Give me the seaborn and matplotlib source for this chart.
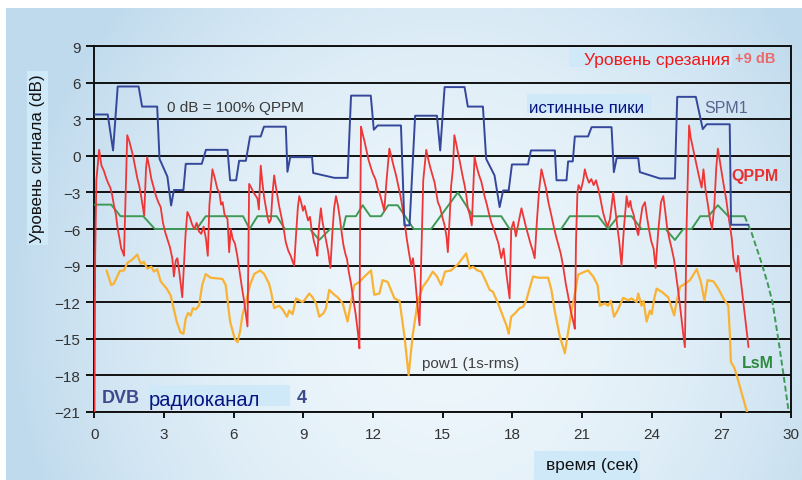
import numpy as np
import pandas as pd
import matplotlib
matplotlib.use("Agg")
import matplotlib.pyplot as plt
import seaborn as sns
from matplotlib.patches import Rectangle

# ---------------- data ----------------
spm1_t = [0.00, 0.57, 0.80, 1.00, 1.90, 2.05, 2.70, 2.80, 3.14, 3.30, 3.42, 3.83, 3.93, 4.62, 4.80,
          5.73, 5.84, 6.10, 6.23, 6.52, 6.70, 7.16, 7.30, 8.24, 8.31, 8.43, 9.37, 9.42, 10.33, 10.90,
          11.05, 11.90, 12.03, 12.20, 13.20, 13.35, 13.57, 13.81, 14.75, 14.89, 15.08, 15.94, 16.08,
          16.73, 16.87, 17.23, 17.45, 17.60, 17.84, 17.98, 18.67, 18.80, 19.83, 19.90, 20.33, 20.40,
          20.60, 20.69, 21.26, 21.41, 22.27, 22.37, 22.49, 23.42, 23.49, 24.35, 25.00, 25.10, 25.90,
          26.20, 26.37, 27.36, 27.42, 28.17]
spm1_v = [3.4, 3.4, 0.45, 5.7, 5.7, 4.05, 4.05, -0.24, -1.7, -4.07, -2.8, -2.8, -0.65, -0.65, 0.5,
          0.5, -2.0, -2.0, -0.4, -0.4, 1.6, 1.6, 2.4, 2.4, -1.3, -0.1, -0.1, -1.4, -1.8, -1.8,
          4.95, 4.95, 2.15, 2.5, 2.5, -5.7, -5.7, 3.3, 3.3, 0.45, 5.65, 5.65, 4.05,
          4.05, -0.24, -1.6, -4.2, -2.84, -2.84, -0.7, -0.7, 0.45, 0.45, -2.0, -2.0, -0.45,
          -0.45, 1.6, 1.6, 2.36, 2.36, -1.33, -0.18, -0.18, -1.33, -1.85, -1.85, 4.85, 4.85,
          2.2, 2.6, 2.6, -5.65, -5.65]

qppm_t = [0.00, 0.03, 0.08, 0.20, 0.30, 0.40, 0.50, 0.58, 0.68, 0.76, 0.85, 0.92, 1.00, 1.08, 1.15,
          1.22, 1.27, 1.33, 1.41, 1.50, 1.58, 1.66, 1.75, 1.84, 1.92, 2.00, 2.08, 2.14, 2.22, 2.27,
          2.35, 2.45, 2.55, 2.65, 2.75, 2.85, 2.95, 3.05, 3.15, 3.25, 3.35, 3.42, 3.50, 3.57, 3.65,
          3.72, 3.78, 3.85, 3.92, 4.00, 4.10, 4.20, 4.30, 4.40, 4.50, 4.60, 4.70, 4.80, 4.88, 4.95,
          5.08, 5.18, 5.29, 5.38, 5.45, 5.52, 5.60, 5.73, 5.80, 5.87, 5.95, 6.05, 6.15, 6.25, 6.35,
          6.45, 6.52, 6.59, 6.63, 6.66, 6.75, 6.85, 6.95, 7.02, 7.08, 7.16, 7.22, 7.30, 7.38, 7.45,
          7.52, 7.60, 7.67, 7.74, 7.81, 7.88, 7.95, 8.05, 8.15, 8.24, 8.35, 8.45, 8.52, 8.60, 8.68,
          8.76, 8.82, 8.90, 8.98, 9.05, 9.12, 9.20, 9.28, 9.35, 9.45, 9.54, 9.60, 9.66, 9.75, 9.82,
          9.90, 9.98, 10.06, 10.16, 10.24, 10.32, 10.40, 10.48, 10.56, 10.64, 10.72, 10.80, 10.88,
          10.95, 11.05, 11.15, 11.25, 11.35, 11.41, 11.44, 11.48, 11.55, 11.63, 11.72, 11.80, 11.91,
          12.00, 12.10, 12.20, 12.30, 12.40, 12.48, 12.58, 12.70, 12.78, 12.88, 12.99, 13.08, 13.18,
          13.27, 13.36, 13.45, 13.55, 13.64, 13.72, 13.80, 13.90, 14.00, 14.08, 14.16, 14.29, 14.38,
          14.47, 14.56, 14.65, 14.72, 14.79, 14.88, 14.98, 15.08, 15.16, 15.22, 15.30, 15.36, 15.44,
          15.50, 15.58, 15.65, 15.75, 15.85, 15.94, 16.02, 16.08, 16.16, 16.25, 16.31, 16.37, 16.45,
          16.55, 16.66, 16.80, 16.90, 17.00, 17.10, 17.20, 17.30, 17.40, 17.52, 17.62, 17.75, 17.88,
          17.95, 18.05, 18.15, 18.25, 18.39, 18.48, 18.58, 18.68, 18.78, 18.88, 18.96, 19.05, 19.15,
          19.25, 19.34, 19.44, 19.55, 19.68, 19.78, 19.88, 19.98, 20.08, 20.18, 20.30, 20.40, 20.52,
          20.62, 20.69, 20.74, 20.80, 20.85, 20.95, 21.05, 21.12, 21.20, 21.30, 21.40, 21.50, 21.60,
          21.70, 21.80, 21.90, 22.00, 22.10, 22.20, 22.28, 22.34, 22.42, 22.50, 22.60, 22.70, 22.80,
          22.92, 23.00, 23.08, 23.13, 23.22, 23.32, 23.42, 23.50, 23.60, 23.71, 23.78, 23.88, 23.98,
          24.08, 24.17, 24.28, 24.40, 24.50, 24.58, 24.66, 24.76, 24.86, 24.96, 25.05, 25.15, 25.25,
          25.35, 25.43, 25.50, 25.61, 25.68, 25.78, 25.87, 25.95, 26.05, 26.15, 26.23, 26.32, 26.42,
          26.51, 26.60, 26.70, 26.78, 26.85, 26.95, 27.05, 27.13, 27.22, 27.28, 27.36, 27.45, 27.52,
          27.60, 27.66, 27.72, 27.80, 27.88, 27.98, 28.08, 28.17]
qppm_v = [-21.0, -8.0, -2.0, 0.5, -0.8, -1.2, -1.8, -2.2, -2.6, -3.2, -4.2, -4.8, -6.0, -6.8, -7.6,
          -7.9, -8.2, -4.0, 1.7, 1.2, 0.6, 0.0, -0.9, -1.8, -2.4, -3.2, -4.2, -4.9, -1.0, -0.1,
          -0.8, -1.9, -2.6, -3.3, -3.8, -4.2, -5.5, -6.3, -6.9, -7.5, -8.4, -9.9, -8.6, -8.4, -9.5,
          -10.6, -11.6, -9.0, -6.5, -4.6, -5.0, -5.6, -6.0, -5.5, -6.2, -6.4, -5.8, -6.8, -8.2, -4.0,
          -1.1, -1.8, -2.7, -3.0, -4.0, -3.8, -4.8, -5.2, -7.9, -6.0, -6.8, -7.2, -8.2, -9.5, -10.8,
          -12.0, -13.0, -14.0, -8.0, -2.3, -2.6, -3.0, -3.3, -3.5, -4.4, -0.8, -2.0, -3.3, -4.2, -5.0,
          -5.5, -5.2, -3.0, -1.6, -2.5, -3.3, -4.1, -5.0, -6.0, -7.1, -7.8, -8.2, -8.6, -9.0, -6.5,
          -4.2, -3.3, -3.8, -4.5, -4.1, -4.7, -5.3, -5.0, -6.0, -7.0, -7.6, -8.2, -6.0, -4.3, -5.4,
          -6.2, -7.0, -7.8, -9.2, -6.5, -4.3, -3.3, -4.0, -5.0, -6.2, -7.3, -8.0, -8.5,
          -9.5, -10.5, -11.8, -13.0, -14.6, -15.8, -6.0, 2.4, 1.8, 1.2, 0.4, -0.3, -1.0,
          -1.5, -1.9, -2.7, -3.2, -3.9, -4.5, -2.0, 0.6, 0.0, -0.8, -1.6, -2.4, -3.3,
          -4.3, -5.5, -6.8, -8.0, -9.0, -8.4, -9.8, -12.0, -13.9, -8.0, -2.0, 0.5, -0.3,
          -1.0, -1.6, -2.2, -3.0, -3.8, -4.2, -5.0, -5.7, -6.6, -7.9, -5.0, -2.5, -1.0,
          1.7, 1.0, 0.3, -0.6, -1.6, -2.4, -3.3, -4.3, -4.8, -5.7, -3.0, -0.1, -0.8,
          -1.5, -2.1, -3.3, -4.0, -4.8, -5.5, -6.0, -6.6, -7.2, -8.4, -7.6, -9.8, -11.7,
          -6.0, -5.4, -6.6, -5.6, -4.3, -5.0, -5.8, -6.5, -7.2, -7.8, -8.4, -5.5, -2.8,
          -1.1, -1.8, -2.6, -3.8, -4.9, -5.8, -6.6, -7.3, -8.0, -9.0, -10.5, -11.5, -12.8,
          -13.6, -14.2, -7.0, -3.0, -2.4, -2.8, -2.0, -1.1, -1.7, -2.2, -1.9, -2.4, -2.0,
          -2.7, -3.6, -4.6, -5.3, -5.8, -5.2, -4.0, -3.0, -4.2, -5.5, -7.0, -9.0, -6.0,
          -3.3, -4.2, -3.7, -4.3, -4.8, -5.8, -6.5, -5.5, -4.2, -3.8, -4.8, -6.0, -7.0,
          -7.6, -9.2, -6.2, -3.8, -3.3, -4.5, -5.8, -6.8, -7.6, -8.5, -9.8, -11.2, -12.8,
          -14.5, -15.7, -6.0, 2.5, 1.5, 0.6, -0.2, -0.9, -1.8, -2.6, -1.1, -2.8, -4.0,
          -5.2, -6.0, -4.0, -1.0, 0.6, -0.6, -1.8, -2.7, -3.7, -4.6, -5.6, -6.8, -8.4,
          -9.0, -9.5, -8.2, -9.6, -10.9, -12.5, -14.2, -15.7]

lsm_t = [0.00, 0.72, 1.12, 2.10, 2.60, 4.40, 4.79, 6.40, 6.68, 7.02, 7.85, 8.20, 9.28, 9.68, 10.15,
         10.70, 10.83, 11.26, 11.55, 11.88, 12.34, 12.65, 13.06, 13.75, 14.50, 15.65, 16.30, 17.52,
         17.88, 20.10, 20.47, 21.70, 22.12, 22.56, 23.13, 23.56, 24.60, 25.00, 25.36, 25.72, 26.09,
         26.44, 26.85, 27.30, 28.00]
lsm_v = [-4.0, -4.0, -4.95, -4.95, -6.0, -6.0, -4.95, -4.95, -6.0, -4.95, -4.95, -6.0, -6.0, -6.9, -6.0,
         -6.0, -4.95, -4.95, -4.05, -4.95, -4.95, -4.05, -4.05, -6.0, -6.0, -3.0, -4.95, -4.95,
         -6.0, -6.0, -4.95, -4.95, -6.0, -4.95, -4.95, -6.0, -6.0, -6.9, -6.0, -6.0, -4.95,
         -4.95, -4.05, -4.95, -4.95]
lsm_tail_t = [28.00, 28.30, 28.70, 29.00, 29.20, 29.45, 29.68, 29.90]
lsm_tail_v = [-4.95, -6.3, -8.6, -10.5, -12.0, -15.0, -18.0, -21.0]

pow1_t = [0.52, 0.72, 0.83, 1.09, 1.27, 1.41, 1.63, 1.84, 1.99, 2.13, 2.27, 2.45, 2.56, 2.70, 2.85,
          3.11, 3.28, 3.54, 3.71, 3.83, 3.93, 4.03, 4.14, 4.24, 4.36, 4.50, 4.64, 4.79, 5.00, 5.51,
          5.65, 5.84, 6.04, 6.16, 6.27, 6.37, 6.52, 6.70, 6.88, 7.13, 7.31, 7.52, 7.60, 7.74, 7.95,
          8.10, 8.29, 8.39, 8.53, 8.68, 8.82, 8.96, 9.06, 9.25, 9.39, 9.54, 9.68, 9.87, 9.97, 10.11,
          10.33, 10.47, 10.69, 10.90, 11.02, 11.19, 11.41, 11.63, 11.91, 12.05, 12.27, 12.41, 12.63,
          12.92, 13.14, 13.35, 13.53, 13.70, 13.92, 14.14, 14.35, 14.57, 14.75, 14.93, 15.10, 15.36,
          15.65, 16.01, 16.16, 16.30, 16.49, 16.66, 16.87, 17.02, 17.16, 17.38, 17.74, 17.84, 17.95,
          18.10, 18.31, 18.46, 18.60, 18.70, 18.89, 19.13, 19.54, 19.68, 19.83, 20.04, 20.26, 20.37,
          20.54, 20.72, 20.83, 21.12, 21.26, 21.48, 21.67, 21.77, 21.98, 22.12, 22.24, 22.38, 22.53,
          22.77, 22.99, 23.13, 23.35, 23.42, 23.56, 23.65, 23.78, 23.92, 24.00, 24.11, 24.21, 24.43,
          24.71, 24.97, 25.07, 25.22, 25.43, 25.65, 25.94, 26.12, 26.27, 26.41, 26.66, 26.87, 27.09,
          27.30, 27.37, 27.41, 27.56, 27.66, 28.10]
pow1_v = [-9.4, -10.6, -10.5, -9.45, -9.4, -8.8, -8.5, -8.1, -8.85, -8.7, -9.25, -9.1, -9.5, -9.3, -10.3,
          -10.9, -11.45, -13.6, -14.5, -14.6, -13.35, -12.9, -13.1, -12.5, -12.6, -12.3, -10.6, -9.7, -10.0, -10.1,
          -10.6, -13.6, -15.0, -15.3, -14.4, -13.1, -12.0, -10.6, -9.7, -9.4, -9.7, -10.5, -11.1, -12.5, -12.3,
          -12.6, -13.2, -12.7, -13.0, -11.7, -11.85, -12.0, -11.8, -11.3, -11.6, -12.1, -13.2, -12.9, -12.5, -11.0,
          -11.4, -11.6, -12.1, -13.6, -12.3, -10.6, -10.35, -9.9, -9.4, -11.4, -11.3, -10.2, -10.35,
          -11.7, -11.9, -14.8, -18.0, -14.8, -12.0, -10.75, -10.2, -9.5, -9.9, -10.6, -9.5, -9.4,
          -8.9, -8.0, -9.25, -9.1, -9.4, -9.5, -10.35, -11.0, -11.15, -12.1, -13.9, -14.6, -13.2,
          -12.95, -12.5, -12.4, -11.85, -11.15, -9.9, -10.0, -10.0, -11.0, -12.8, -14.8, -16.2, -14.8,
          -12.8, -11.0, -9.75, -9.5, -9.4, -9.9, -10.6, -12.3, -12.1, -12.3, -11.9, -13.2, -12.7,
          -11.65, -11.85, -11.7, -12.0, -11.3, -12.3, -11.9, -13.6, -12.7, -13.0, -11.7, -10.9, -11.15,
          -11.6, -13.1, -12.0, -10.75, -10.5, -10.2, -9.3, -10.35, -11.85, -10.2, -10.3, -10.9, -11.7,
          -12.3, -14.8, -16.9, -17.4, -18.0, -21.0]

x_ticks = list(range(0, 31, 3))
y_ticks = list(range(-21, 10, 3))

# ---------------- style ----------------
sns.set_style("white")
plt.rcParams['font.family'] = ['Liberation Sans', 'DejaVu Sans']
plt.rcParams['axes.unicode_minus'] = True

W, H = 803, 481
fig = plt.figure(figsize=(W / 100, H / 100), dpi=100)
fig.patch.set_facecolor('white')

# light-blue gradient background
bg = fig.add_axes([6 / W, 0, 797 / W, 472 / H])
bg.set_zorder(0)
nyy, nxx = 120, 240
xx, yy = np.meshgrid(np.linspace(0, 1, nxx), np.linspace(0, 1, nyy))
f = np.clip(((xx - 0.55) / 0.55) ** 2 + ((yy - 0.65) / 1.0) ** 2, 0, 1)
light = np.array([0.93, 0.965, 0.985])
dark = np.array([0.75, 0.855, 0.93])
img = light + (dark - light) * f[..., None]
bg.imshow(img, aspect='auto', extent=[0, 1, 0, 1], origin='upper')
bg.axis('off')

ax = fig.add_axes([94.5 / W, 1 - 412.7 / H, 696.5 / W, 365.4 / H])
ax.set_zorder(1)
ax.patch.set_alpha(0)

BOX = '#cfe9f9'

def draw(t, v, color, lw, z, ls='-'):
    df = pd.DataFrame({'t': t, 'v': v})
    sns.lineplot(data=df, x='t', y='v', ax=ax, color=color, linewidth=lw, sort=False,
                 estimator=None, zorder=z, linestyle=ls)

draw(lsm_t, lsm_v, '#3f9a55', 1.4, 3)
draw(lsm_tail_t, lsm_tail_v, '#3f9a55', 1.4, 3, ls=(0, (3, 1.5)))
draw(pow1_t, pow1_v, '#f9b233', 1.6, 3)
draw(qppm_t, qppm_v, '#ee3636', 1.3, 4)
draw(spm1_t, spm1_v, '#34479a', 1.4, 5)

ax.set_xlim(0, 30)
ax.set_ylim(-21, 9)
ax.set_xticks(x_ticks)
ax.set_yticks(y_ticks)
ax.grid(axis='y', color='#111111', linewidth=1.4)
ax.grid(axis='x', visible=False)
for s in ax.spines.values():
    s.set_visible(True)
    s.set_color('#111111')
    s.set_linewidth(1.4)
ax.tick_params(axis='y', direction='out', length=6, width=1.4, color='#111111', pad=4,
               labelsize=11, labelcolor='#333333', left=True)
ax.tick_params(axis='x', direction='out', length=4, width=1.4, color='#111111', pad=7,
               labelsize=11, labelcolor='#333333', bottom=True)

ax.set_xlabel('время (сек)', fontsize=12.5, color='#111111', va='center')
ax.xaxis.set_label_coords((592.5 - 94.5) / 696.5, (412.7 - 465.7) / 365.4)
ax.set_ylabel('Уровень сигнала (dB)', fontsize=12.2, color='#111111', va='center',
              bbox=dict(boxstyle='square,pad=0.15', fc=BOX, ec='none'))
ax.yaxis.set_label_coords((37.5 - 94.5) / 696.5, (412.7 - 159) / 365.4)

# light boxes behind some labels
fig.add_artist(Rectangle((534.3 / W, 0), (640 - 534.3) / W, 29.3 / H, transform=fig.transFigure,
                         fc=BOX, ec='none', zorder=0.5))

def axbox(x0, x1, y0, y1):
    ax.add_patch(Rectangle(((x0 - 94.5) / 696.5, (412.7 - y1) / 365.4),
                           (x1 - x0) / 696.5, (y1 - y0) / 365.4,
                           transform=ax.transAxes, fc=BOX, ec='none', zorder=2))

axbox(569, 731.7, 48.5, 68.3)
axbox(526.7, 651.7, 95, 113.5)
axbox(147.7, 290, 385.7, 406.7)

ax.text(3.12, 3.71, '0 dB = 100% QPPM', fontsize=11, color='#3a3a3a', ha='left', va='baseline', zorder=6)
ax.text(27.37, 7.55, 'Уровень срезания', fontsize=12.5, color='#f01818', ha='right', va='baseline', zorder=6)
ax.text(27.58, 7.74, '+9 dB', fontsize=10.5, color='#ec6a6a', weight='bold', ha='left', va='baseline', zorder=6)
ax.text(18.71, 3.58, 'истинные пики', fontsize=12.2, color='#0a1280', ha='left', va='baseline', zorder=6)
ax.text(26.25, 3.63, 'SPM1', fontsize=11.5, color='#56648f', ha='left', va='baseline', zorder=6)
ax.text(27.44, -1.98, 'QPPM', fontsize=11.5, color='#e83030', weight='bold', ha='left', va='baseline', zorder=6)
ax.text(27.87, -17.35, 'LsM', fontsize=11.5, color='#2e8b3e', weight='bold', ha='left', va='baseline', zorder=6)
ax.text(14.09, -17.35, 'pow1 (1s-rms)', fontsize=11, color='#404040', ha='left', va='baseline', zorder=6)
ax.text(0.31, -20.23, 'DVB', fontsize=13, color='#3c4a8c', weight='bold', ha='left', va='baseline', zorder=6)
ax.text(2.32, -20.45, 'радиоканал', fontsize=14.5, color='#0a1280', ha='left', va='baseline', zorder=6)
ax.text(8.71, -20.23, '4', fontsize=13, color='#3c4a8c', weight='bold', ha='left', va='baseline', zorder=6)

fig.savefig('out.png', dpi=100, facecolor=fig.get_facecolor())
